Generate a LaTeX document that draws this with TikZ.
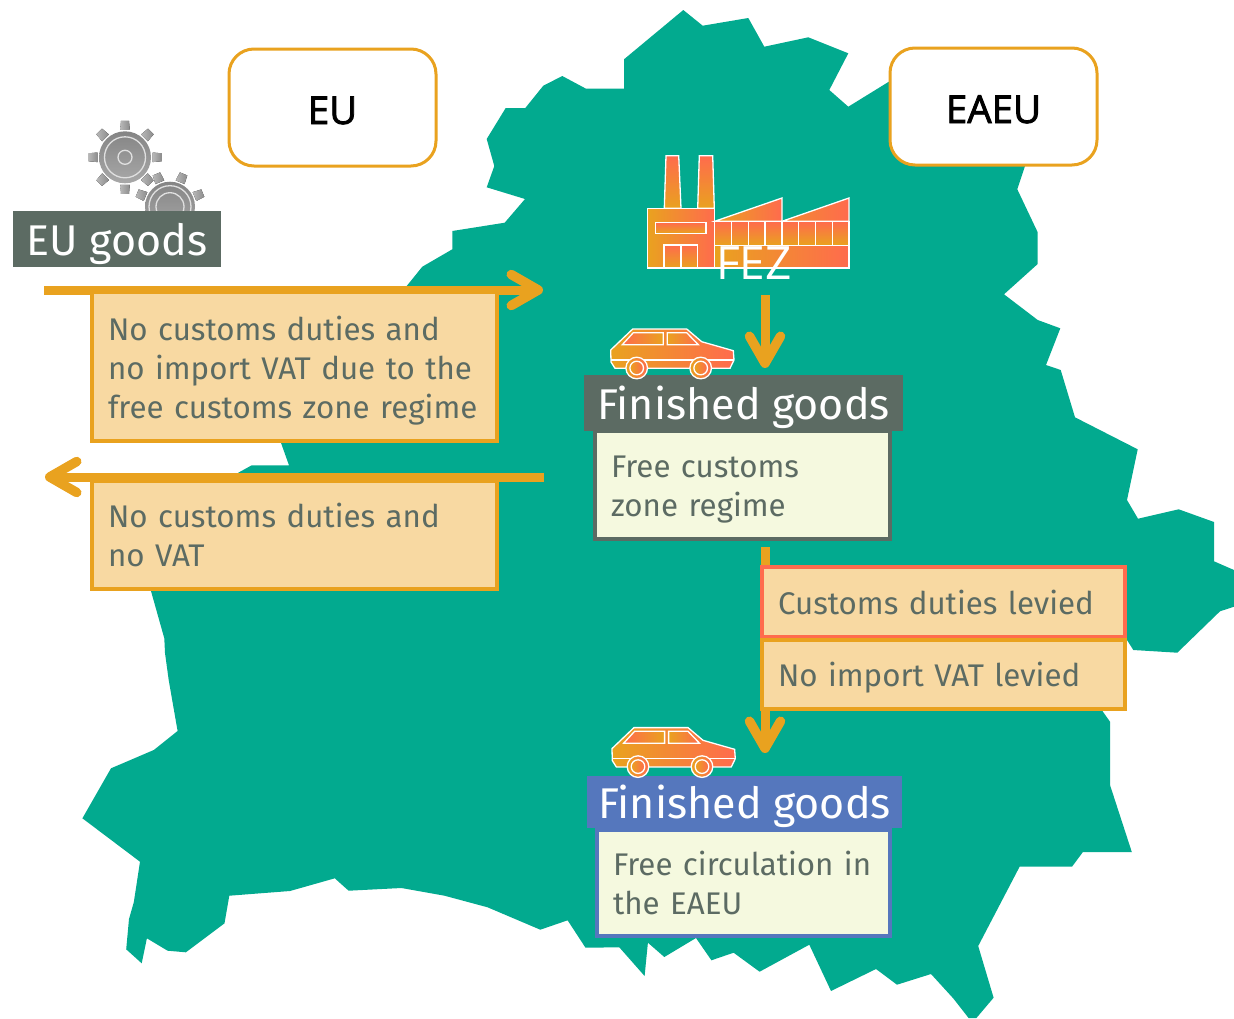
\documentclass[tikz,border=0pt]{standalone}
\usepackage{fontspec}
\usetikzlibrary{arrows.meta}
\setmainfont{Fira Sans}
\newfontfamily\labelfont{Open Sans}
\newfontfamily\blocfont[FakeBold=2.2]{Open Sans}
\definecolor{mapgreen}{HTML}{02AA8F}
\definecolor{amber}{HTML}{E9A21F}
\definecolor{coral}{HTML}{FF6B4D}
\definecolor{slategrey}{HTML}{5C6B63}
\definecolor{peach}{HTML}{F8D9A2}
\definecolor{cream}{HTML}{F5F9DF}
\definecolor{steelblue}{HTML}{5577BD}
\newcommand{\bodysize}{\fontsize{31.3}{38.7}\selectfont}
\newcommand{\headsize}{\fontsize{43}{50}\selectfont}
\newcommand{\tallfirst}[1]{\rule{0pt}{#1}}
\tikzset{
  lr/.style={left color=amber,right color=coral,draw=white,line width=1.3pt},
  rl/.style={left color=coral,right color=amber,draw=white,line width=1.3pt},
  tb/.style={top color=coral,bottom color=amber,draw=white,line width=1.3pt},
  taxbox/.style={draw=amber,fill=peach,line width=4.5pt,text=slategrey,align=left,inner sep=0pt,font=\bodysize},
  notebox/.style={fill=cream,line width=4.5pt,text=slategrey,align=left,inner sep=0pt,font=\bodysize},
  headbox/.style={text=white,inner sep=0pt,font=\headsize,anchor=center,text height=42pt,text depth=9pt},
  bloc/.style={draw=amber,fill=white,rounded corners=25pt,line width=3pt,minimum width=207pt,minimum height=117pt,font=\blocfont\fontsize{38.5}{40}\selectfont,text=black,text height=33pt,text depth=0pt},
  flow/.style={draw=amber,line width=9pt,-{Straight Barb[length=27pt,width=31pt,line width=9.5pt,round]}}
}
\newcommand{\gear}[6]{% x y rotation body ring hub
  \begin{scope}[shift={(#1,#2)},rotate=#3]
    \foreach \a in {0,45,...,315}{
      \fill[rotate=\a,left color=black!28,right color=black!45] (-4.8,-#4-1.5) -- (-4,-#4-10.5) -- (4,-#4-10.5) -- (4.8,-#4-1.5) -- cycle;
    }
  \end{scope}
  \begin{scope}[shift={(#1,#2)}]
    \path[top color=black!48,bottom color=black!34] (0,0) circle (#4);
    \draw[black!12,line width=1.3pt] (0,0) circle (#5);
    \draw[black!12,line width=1.3pt] (0,0) circle (#6);
  \end{scope}
}
\newcommand{\car}[2]{%
  \begin{scope}[shift={(#1,#2)}]
    \path[lr] (610.7,350) -- (632.7,329) -- (686.7,329) -- (701.7,341.7) -- (733.3,350.7) -- (734,360) -- (730,368.3) -- (615,368.3) -- (611,362) -- cycle;
    \path[draw=white,line width=1.3pt] (611,360) -- (734,360);
    \path[rl] (622.3,344.7) -- (633.3,332.7) -- (663.3,332.7) -- (663.3,344.7) -- cycle;
    \path[lr] (667.3,332.7) -- (686.7,332.7) -- (698.3,344.7) -- (667.3,344.7) -- cycle;
    \foreach \w in {636.7,700.7}{
      \path[lr] (\w,368) circle (10.8);
      \path[lr] (\w,368) circle (6.8);
    }
  \end{scope}
}
\begin{document}
\begin{tikzpicture}[x=1pt,y=-1pt]
\useasboundingbox (0,0) rectangle (1234,1018);
% map
\fill[mapgreen] (683.3,10) -- (702.7,25.7) -- (748.3,18) -- (764.3,46.7) -- (808.3,37.3) -- (848.3,53.3) -- (829.3,90) -- (848.3,106.7) -- (890,81) -- (1025,166) -- (1017.3,189.3) -- (1037.7,232.3) -- (1037.7,264) -- (1004,294.3) -- (1037.7,320) -- (1060.3,328.3) -- (1046,365) -- (1060.7,370) -- (1075,417.3) -- (1137.7,449.3) -- (1127,500) -- (1138,518.7) -- (1178.7,509.3) -- (1214,522) -- (1214,561.3) -- (1234,570) -- (1234,606.7) -- (1220,611.3) -- (1177.3,652.7) -- (1133.3,650) -- (1127,640) -- (1101.7,710) -- (1110,721.7) -- (1110,785) -- (1131.8,852) -- (1082.9,852) -- (1072,866.7) -- (1019.6,866.7) -- (978.2,946) -- (993.6,997.7) -- (976.4,1018) -- (968.6,1018) -- (953.2,998.3) -- (931,974) -- (897,984.7) -- (876,969) -- (831,991) -- (809.3,944.7) -- (759.6,971.7) -- (733.6,952.7) -- (711.4,960.3) -- (696,938) -- (664.3,957) -- (647.9,942.7) -- (644.6,976) -- (619.3,947.3) -- (585.5,947.7) -- (567.6,920.3) -- (540.3,929.7) -- (487.6,907.3) -- (444.5,895.7) -- (401.4,888) -- (348.6,890.7) -- (334.8,878.3) -- (290,891) -- (229.3,895.7) -- (224.5,923.3) -- (185.9,952.3) -- (167.6,950.7) -- (146.9,938.3) -- (141.7,963.3) -- (126.2,949.3) -- (129,919) -- (133.8,902.3) -- (140,861.7) -- (82.4,818.3) -- (111,768.3) -- (153.8,750) -- (177.6,731) -- (168.7,680) -- (165,653) -- (164.3,638.3) -- (150.7,590) -- (238.3,472.7) -- (251.7,465.3) -- (289,465.3) -- (280.7,442) -- (406.7,286) -- (422.3,266.7) -- (452.3,249.3) -- (452.3,231) -- (504.7,222.7) -- (525,199) -- (486.7,187.3) -- (494.3,166) -- (486.7,139) -- (505.7,108) -- (525.3,108) -- (543.3,85.7) -- (562.3,76) -- (586,88.7) -- (624,88.7) -- (624,59.3) -- cycle;
% gears
\gear{170}{206.7}{22.5}{25}{21}{14}
\gear{125}{157.3}{0}{26}{20.5}{7}
% factory
\path[tb] (666,155.7) -- (678.7,155.7) -- (681,208.3) -- (664.3,208.3) -- cycle;
\path[tb] (699.3,155.7) -- (712.7,155.7) -- (714.3,208.3) -- (697.7,208.3) -- cycle;
\path[lr] (647.3,208.3) rectangle (714.7,268);
\path[tb] (655.7,222.3) rectangle (706,233.3);
\path[tb] (664,245) rectangle (681,268);
\path[tb] (681,245) rectangle (697.7,268);
\path[lr] (714.7,221.3) -- (782,198) -- (782,221.3) -- cycle;
\path[draw=white,line width=1.3pt,left color=amber!60!coral,right color=coral] (782,221.3) -- (849,198) -- (849,221.3) -- cycle;
\path[lr] (714.7,245.3) rectangle (849,268);
\foreach \i in {0,...,7}{
  \path[tb] ({714.7+\i*16.79},221.3) rectangle ({714.7+(\i+1)*16.79},245.3);
}
% connector end points
\coordinate (inStart) at (44,290);
\coordinate (inEnd) at (543,290);
\coordinate (outStart) at (544,477);
\coordinate (outEnd) at (45,477);
\coordinate (fezOut) at (765,295);
\coordinate (goodsIn) at (765,368);
\coordinate (regimeOut) at (765,547);
\coordinate (freeIn) at (765,753);
% connectors
\draw[flow] (inStart) -- (inEnd);
\draw[flow] (outStart) -- (outEnd);
\draw[flow] (fezOut) -- (goodsIn);
\draw[flow] (regimeOut) -- (freeIn);
% blocs
\node[bloc] (eu) at (332.5,107.5) {EU};
\node[bloc] (eaeu) at (993.5,106.5) {EAEU};
% labels
\node[text=white,font=\labelfont\fontsize{46}{48}\selectfont,inner sep=0pt] (fez) at (754,263.5) {FEZ};
\node[headbox,fill=slategrey,minimum width=208pt,minimum height=56pt] (eugoods) at (117,239) {EU goods};
\node[taxbox,minimum width=405pt,minimum height=149pt,text width=373pt] (dutyin) at (294.5,366.5) {\tallfirst{33pt}\mbox{No customs duties and}\\\mbox{no import VAT due to the}\\\mbox{free customs zone regime}};
\node[taxbox,minimum width=405pt,minimum height=108pt,text width=373pt] (dutyout) at (294.5,535) {\mbox{No customs duties and}\\\mbox{no VAT}};
\node[headbox,fill=slategrey,minimum width=319pt,minimum height=56pt] (goodsA) at (743.5,403) {Finished goods};
\node[notebox,draw=slategrey,minimum width=295pt,minimum height=108pt,text width=263pt] (regime) at (742.5,485) {\tallfirst{30pt}\mbox{Free customs}\\\mbox{zone regime}};
\node[taxbox,draw=coral,minimum width=363pt,minimum height=70pt,text width=331pt] (levied) at (943.5,602) {\mbox{Customs duties levied}};
\node[taxbox,text depth=0pt,minimum width=363pt,minimum height=69pt,text width=331pt] (novat) at (943.5,674.5) {\mbox{No import VAT levied}};
\node[headbox,fill=steelblue,minimum width=315pt,minimum height=52pt] (goodsB) at (744.5,802) {Finished goods};
\node[notebox,draw=steelblue,minimum width=293pt,minimum height=106pt,text width=261pt] (free) at (743.5,883) {\mbox{Free circulation in}\\\mbox{the EAEU}};
% cars sit on the heading bands
\car{0}{0}
\car{1.3}{398.6}
\end{tikzpicture}
\end{document}
